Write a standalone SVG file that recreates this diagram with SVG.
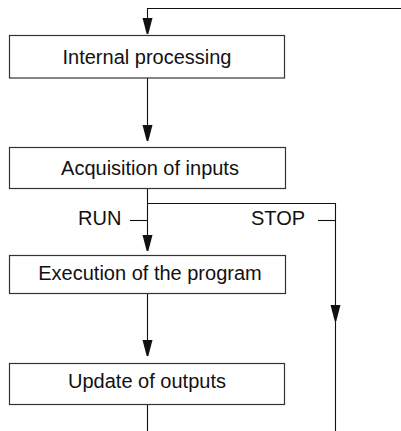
<svg xmlns="http://www.w3.org/2000/svg" width="401" height="431" viewBox="0 0 401 431">
<style>
.box{fill:#fff;stroke:#333;stroke-width:1.2}
.lbl{font-family:"Liberation Sans",Arial,sans-serif;font-size:20px;fill:#111}
.c{text-anchor:middle}
.ln{fill:none;stroke:#111;stroke-width:1.1}
.ah{fill:#111}
</style>
<defs>
<path id="head" d="M-5,0 L5,0 L0.8,16 L-0.8,16 Z"/>
</defs>
<rect width="401" height="431" fill="#fff"/>
<g id="connectors">
<polyline class="ln" points="401,8.5 147.5,8.5 147.5,20"/>
<use href="#head" class="ah" x="147.5" y="18"/>
<line class="ln" x1="147.5" y1="78" x2="147.5" y2="127"/>
<use href="#head" class="ah" x="147.5" y="125"/>
<line class="ln" x1="147.5" y1="188.5" x2="147.5" y2="237"/>
<use href="#head" class="ah" x="147.5" y="235"/>
<polyline class="ln" points="147.5,203.5 335.5,203.5 335.5,431"/>
<use href="#head" class="ah" x="335.5" y="305"/>
<line class="ln" x1="130" y1="220.5" x2="147.5" y2="220.5"/>
<line class="ln" x1="318" y1="220.5" x2="335.5" y2="220.5"/>
<text class="lbl" x="78" y="225">RUN</text>
<text class="lbl" x="251" y="225">STOP</text>
<line class="ln" x1="147.5" y1="293" x2="147.5" y2="342"/>
<use href="#head" class="ah" x="147.5" y="340"/>
<line class="ln" x1="147.5" y1="404" x2="147.5" y2="431"/>
</g>
<g id="internal">
<rect class="box" x="9.5" y="35.5" width="275" height="42.5"/>
<text class="lbl c" x="147" y="64">Internal processing</text>
</g>
<g id="acquisition">
<rect class="box" x="9.5" y="147.5" width="276" height="41"/>
<text class="lbl c" x="150" y="175">Acquisition of inputs</text>
</g>
<g id="execution">
<rect class="box" x="9.5" y="255.5" width="276" height="38"/>
<text class="lbl c" x="150" y="280">Execution of the program</text>
</g>
<g id="update">
<rect class="box" x="9.5" y="363.5" width="275" height="41"/>
<text class="lbl c" x="147" y="388">Update of outputs</text>
</g>
</svg>
